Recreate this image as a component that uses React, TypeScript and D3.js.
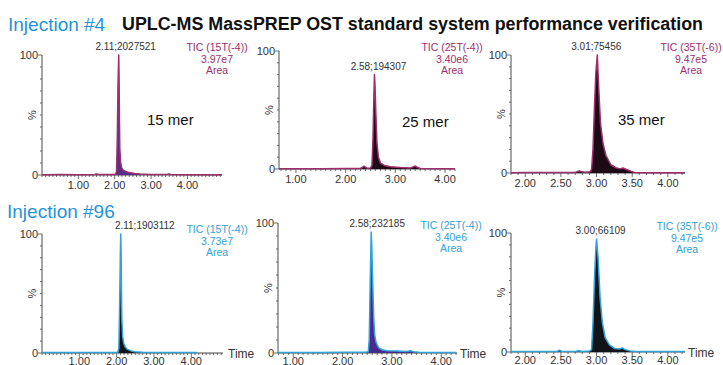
import React from "react";
import * as d3 from "d3";

// chromatogram traces: [retention time (min), intensity %]
const inj4_15mer: [number, number][] = [
  [0, 0.3], [0.5, 0.4], [1.0, 0.3], [1.45, 0.5], [1.5, 0.9], [1.55, 0.4], [1.9, 0.4],
  [2.02, 0.5], [2.05, 3], [2.07, 30], [2.09, 75], [2.11, 100], [2.12, 80], [2.13, 45],
  [2.14, 22], [2.16, 11], [2.19, 6], [2.23, 4], [2.3, 3], [2.4, 2], [2.55, 1.2],
  [2.7, 0.8], [3.0, 0.5], [3.45, 0.6], [3.5, 0.9], [3.55, 0.5], [4.0, 0.3], [4.5, 0.3], [4.95, 0.3],
];
const inj4_25mer: [number, number][] = [
  [0.66, 0.3], [1.0, 0.3], [1.5, 0.3], [2.0, 0.4], [2.3, 0.5], [2.34, 1.5], [2.37, 2.5],
  [2.4, 1.5], [2.44, 0.6], [2.5, 0.8], [2.53, 3], [2.55, 25], [2.57, 65], [2.58, 80],
  [2.59, 72], [2.61, 45], [2.63, 22], [2.66, 10], [2.7, 5], [2.78, 3], [2.9, 2],
  [3.1, 1.2], [3.3, 0.8], [3.36, 1.8], [3.4, 2.5], [3.44, 1.5], [3.5, 0.4], [3.8, 0.3], [4.2, 0.3],
];
const inj4_35mer: [number, number][] = [
  [1.8, 0.3], [2.0, 0.4], [2.3, 0.4], [2.5, 0.5], [2.7, 0.5], [2.73, 1.2], [2.76, 1.8],
  [2.79, 1.0], [2.85, 0.6], [2.91, 1.0], [2.93, 3], [2.95, 20], [2.97, 55], [2.99, 85],
  [3.01, 100], [3.03, 72], [3.055, 42], [3.09, 25], [3.13, 15], [3.2, 7], [3.27, 4.5],
  [3.33, 3.5], [3.37, 4.2], [3.42, 3], [3.48, 1.5], [3.53, 0.5], [3.7, 0.3], [4.0, 0.3], [4.24, 0.3],
];
const inj96_15mer: [number, number][] = [
  [0, 0.4], [0.5, 0.4], [1.0, 0.4], [1.5, 0.5], [1.9, 0.4], [2.03, 0.6], [2.06, 4],
  [2.08, 40], [2.1, 85], [2.11, 100], [2.12, 82], [2.13, 50], [2.14, 28], [2.16, 14],
  [2.19, 8], [2.23, 5], [2.29, 3], [2.38, 1.8], [2.47, 1], [2.7, 0.6], [3.0, 0.5],
  [3.5, 0.5], [4.0, 0.4], [4.15, 0.4],
];
const inj96_25mer: [number, number][] = [
  [0.69, 0.4], [1.0, 0.4], [1.5, 0.4], [2.0, 0.5], [2.3, 0.6], [2.45, 0.5], [2.52, 1],
  [2.54, 10], [2.56, 55], [2.58, 93], [2.59, 85], [2.61, 55], [2.63, 28], [2.65, 14],
  [2.68, 8], [2.73, 4], [2.8, 2.5], [2.9, 1.8], [3.1, 1.5], [3.3, 1.2], [3.38, 1.8],
  [3.43, 1.0], [3.55, 0.5], [3.8, 0.4], [4.1, 0.4], [4.3, 0.4],
];
const inj96_35mer: [number, number][] = [
  [1.8, 0.4], [2.0, 0.4], [2.3, 0.5], [2.45, 0.6], [2.48, 1.5], [2.51, 0.6], [2.7, 0.5],
  [2.75, 1.0], [2.8, 0.5], [2.9, 0.8], [2.93, 2], [2.95, 25], [2.97, 60], [2.99, 88],
  [3.0, 95], [3.02, 80], [3.05, 45], [3.08, 25], [3.12, 12], [3.18, 6], [3.25, 3],
  [3.32, 2.5], [3.36, 3.5], [3.4, 2], [3.47, 0.8], [3.55, 0.4], [3.8, 0.4], [4.1, 0.4], [4.24, 0.4],
];

const peakTimes = [2.11, 2.58, 3.01, 2.11, 2.58, 3.0];
const peakHeights = [100, 80, 100, 100, 93, 95];
const peakLabels = ["2.11;2027521", "2.58;194307", "3.01;75456", "2.11;1903112", "2.58;232185", "3.00;66109"];
const ticNames = ["TIC (15T(-4))", "TIC (25T(-4))", "TIC (35T(-6))", "TIC (15T(-4))", "TIC (25T(-4))", "TIC (35T(-6))"];
const ticAreas = ["3.97e7", "3.40e6", "9.47e5", "3.73e7", "3.40e6", "9.47e5"];
const merLabels = ["15 mer", "25 mer", "35 mer"];
const ticksWide = [1, 2, 3, 4];
const ticksNarrow = [2, 2.5, 3, 3.5, 4];

const traces = [inj4_15mer, inj4_25mer, inj4_35mer, inj96_15mer, inj96_25mer, inj96_35mer];

// panel placement on the page
const layout = [
  { x0: 42, x1: 222, yTop: 55, yBase: 175, dom: [0, 4.95], ticks: ticksWide, dx: 7, ticX: 217, ticY: 51, merX: 147, merY: 125 },
  { x0: 279, x1: 455, yTop: 51, yBase: 169, dom: [0.66, 4.2], ticks: ticksWide, dx: 4, ticX: 452, ticY: 51, merX: 402, merY: 127 },
  { x0: 511, x1: 685, yTop: 55, yBase: 173, dom: [1.8, 4.24], ticks: ticksNarrow, dx: -1, ticX: 691, ticY: 51, merX: 618, merY: 125 },
  { x0: 42, x1: 223, yTop: 234, yBase: 353, dom: [0, 4.85], ticks: ticksWide, dx: 24, ticX: 217, ticY: 233, timeX: 228 },
  { x0: 278, x1: 457, yTop: 223, yBase: 353, dom: [0.69, 4.32], ticks: ticksWide, dx: 6, ticX: 451, ticY: 229, timeX: 460 },
  { x0: 511, x1: 685, yTop: 233, yBase: 352, dom: [1.8, 4.24], ticks: ticksNarrow, dx: 4, ticX: 687, ticY: 230, timeX: 688 },
];

const fills = ["#5a2d8a", "#1c0a14", "#1c0a14", "#101418", "#48298e", "#101418"];
const magenta = "#9e2f6c";
const cyan = "#33a2d6";
const axisColor = "#4a4a4a";
const font = "'Liberation Sans', Arial, Helvetica, sans-serif";

function Panel({ i }: { i: number }) {
  const p = layout[i];
  const data = traces[i];
  const top = i < 3;
  const lineColor = top ? magenta : cyan;

  const x = d3.scaleLinear().domain(p.dom).range([p.x0, p.x1]);
  const y = d3.scaleLinear().domain([0, 100]).range([p.yBase, p.yTop]);

  const area = d3.area<[number, number]>()
    .x(d => x(d[0]))
    .y0(p.yBase)
    .y1(d => y(d[1]));
  const line = d3.line<[number, number]>()
    .x(d => x(d[0]))
    .y(d => y(d[1]));

  const minor = d3.range(Math.ceil(p.dom[0] * 10), Math.floor(p.dom[1] * 10) + 1).map(k => k / 10);
  const yMinor = d3.range(0, 101, 10);

  return (
    <g>
      {/* y axis */}
      <line x1={p.x0} x2={p.x0} y1={p.yTop} y2={p.yBase} stroke={axisColor} strokeWidth={1} />
      {yMinor.map(v => (
        <line key={v} x1={p.x0 - (v === 0 || v === 100 ? 4 : 2)} x2={p.x0} y1={y(v)} y2={y(v)} stroke={axisColor} strokeWidth={0.8} />
      ))}
      <text x={p.x0 - 4} y={y(100) + 4} textAnchor="end" fontSize={11} fill="#333">100</text>
      <text x={p.x0 - 4} y={y(0) + 4} textAnchor="end" fontSize={11} fill="#333">0</text>
      <text transform={`translate(${p.x0 - 6},${y(50)}) rotate(-90)`} textAnchor="middle" fontSize={11} fill="#333">%</text>

      {/* x axis */}
      <line x1={p.x0} x2={p.x1} y1={p.yBase} y2={p.yBase} stroke={axisColor} strokeWidth={1} />
      {minor.map(t => {
        const major = p.ticks.some(v => Math.abs(v - t) < 1e-6);
        return <line key={t} x1={x(t)} x2={x(t)} y1={p.yBase} y2={p.yBase + (major ? 4 : 2)} stroke={axisColor} strokeWidth={0.8} />;
      })}
      {p.ticks.map(t => (
        <text key={t} x={x(t)} y={p.yBase + (top ? 14 : 12)} textAnchor="middle" fontSize={11} fill="#333">{t.toFixed(2)}</text>
      ))}

      {/* trace */}
      <path d={area(data) || ""} fill={fills[i]} />
      <path d={line(data) || ""} fill="none" stroke={lineColor} strokeWidth={1.5} strokeLinejoin="round" />

      {/* annotations */}
      <text x={x(peakTimes[i]) + p.dx} y={y(peakHeights[i]) - 5} textAnchor="middle" fontSize={10} fill="#333">{peakLabels[i]}</text>
      <text x={p.ticX} y={p.ticY} textAnchor="middle" fontSize={10.5} fill={lineColor}>
        <tspan x={p.ticX} dy={0}>{ticNames[i]}</tspan>
        <tspan x={p.ticX} dy={12}>{ticAreas[i]}</tspan>
        <tspan x={p.ticX} dy={11}>Area</tspan>
      </text>
      {top && <text x={p.merX} y={p.merY} fontSize={15} fill="#111">{merLabels[i]}</text>}
      {!top && <text x={p.timeX} y={p.yBase + 5} fontSize={12} fill="#333">Time</text>}
    </g>
  );
}

export default function App() {
  return (
    <svg width={723} height={365} viewBox="0 0 723 365"
      style={{ position: "absolute", left: 0, top: 0, background: "#fff", fontFamily: font }}>
      <text x={8} y={31} fontSize={19} fill="#1f93d8">Injection #4</text>
      <text x={122} y={30} fontSize={18} fontWeight="bold" fill="#111" textLength={581} lengthAdjust="spacingAndGlyphs">UPLC-MS MassPREP OST standard system performance verification</text>
      <text x={7} y={218} fontSize={19} fill="#1f93d8">Injection #96</text>
      {layout.map((_, i) => <Panel key={i} i={i} />)}
    </svg>
  );
}
